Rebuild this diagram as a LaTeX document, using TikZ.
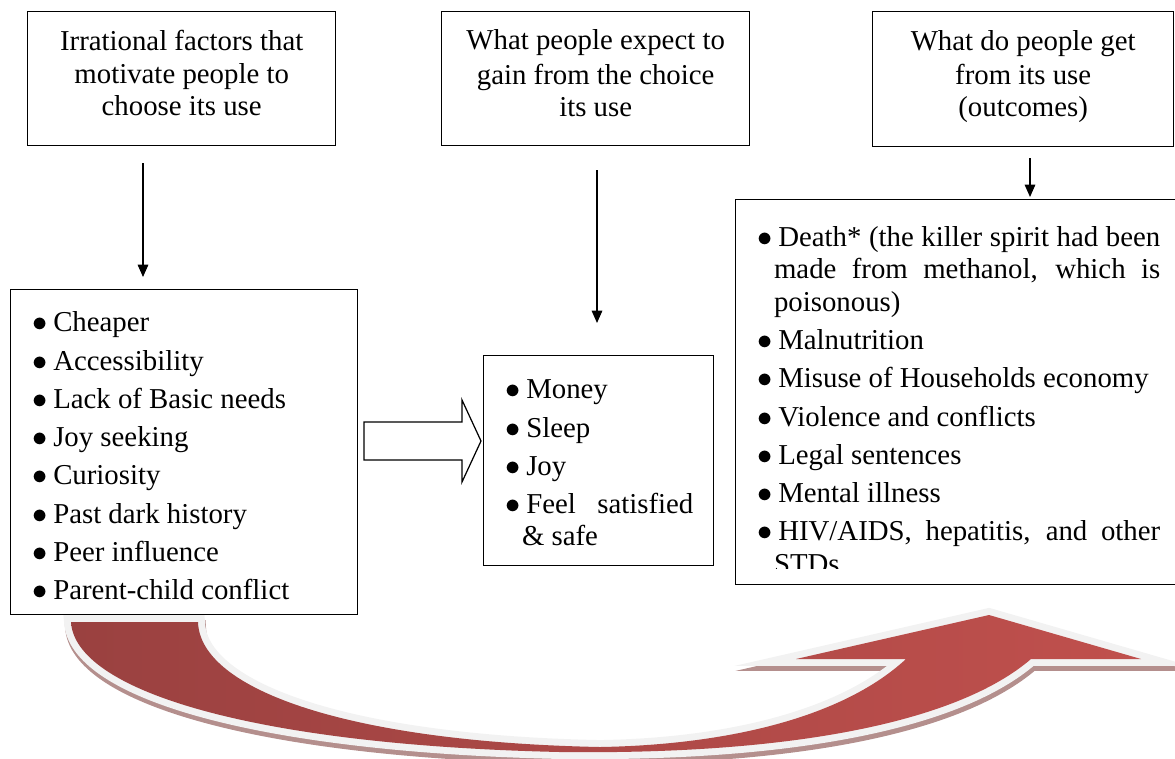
\documentclass[tikz,border=0pt]{standalone}
\usepackage{fontspec}
\setmainfont{Liberation Serif}
\usetikzlibrary{arrows.meta}

\definecolor{pfeildunkel}{HTML}{9A4140}
\definecolor{pfeilhell}{HTML}{C0504D}
\definecolor{pfeilrand}{HTML}{F2F2F2}
\definecolor{pfeilschatten}{HTML}{B48F8D}

\newcommand{\kastenschrift}{\fontsize{16.4}{18.4}\selectfont}
\newcommand{\listenschrift}{\kastenschrift\setlength{\parskip}{3.37pt}\setlength{\parindent}{0pt}}
\newcommand{\punkt}{\par\noindent\hangindent=9.5pt\hangafter=1\makebox[11.9pt][l]{$\bullet$}\strut}
\newcommand{\kopfstuetze}{\rule[-7pt]{0pt}{19pt}}
\newcommand{\bogenpfad}{(71,622) .. controls (75,690) and (250,745) .. (560,752)
  .. controls (800,755) and (960,720) .. (1031,659) -- (1141,659) -- (989,615)
  -- (796,659) -- (906,659) .. controls (840,720) and (720,745) .. (600,747)
  .. controls (350,742) and (200,690) .. (198,622) -- cycle}

\begin{document}
\begin{tikzpicture}[x=0.02cm, y=-0.02cm,
    kasten/.style={draw, line width=0.8pt, fill=white, inner sep=0pt, anchor=north west},
    kopf/.style={kasten, align=center, font=\kastenschrift},
    liste/.style={anchor=north west, inner sep=0pt, align=justify, font=\listenschrift},
    pfeil/.style={-{Triangle[length=7pt,width=6pt]}, line width=0.7pt}]

    % 0. Bildausschnitt
    \path[use as bounding box, clip] (0,0) rectangle (1175,758);

    % 1. Grosser gebogener Pfeil (Schatten, Rand, Verlauf)
    \path[fill=pfeilschatten, draw=pfeilschatten, line width=7.9pt, shift={(1,5)}] \bogenpfad;
    \draw[pfeilrand, line width=7.9pt] \bogenpfad;
    \shade[left color=pfeildunkel, right color=pfeilhell] \bogenpfad;

    % 2. Kopfkaesten
    \node[kopf, minimum width=6.16cm, minimum height=2.68cm] (kopfA) at (27,11)
        {\kopfstuetze Irrational factors that\\motivate people to\\\kopfstuetze choose its use};
    \node[kopf, minimum width=6.16cm, minimum height=2.68cm] (kopfB) at (441,11)
        {\kopfstuetze What people expect to\\gain from the choice\\\kopfstuetze its use};
    \node[kopf, minimum width=6.02cm, minimum height=2.70cm] (kopfC) at (872,11)
        {\kopfstuetze What do people get\\from its use\\\kopfstuetze (outcomes)};

    % 3. Rahmen der Listen
    \node[kasten, minimum width=6.94cm, minimum height=6.5cm] (rahmenA) at (10,289) {};
    \node[kasten, minimum width=4.6cm, minimum height=4.2cm] (rahmenB) at (483,355) {};
    \node[kasten, minimum width=9.3cm, minimum height=7.7cm] (rahmenC) at (735,199) {};

    % 4. Listen
    \node[liste, text width=6cm] (listeA) at (32,293.3)
        {\punkt Cheaper
         \punkt Accessibility
         \punkt Lack of Basic needs
         \punkt Joy seeking
         \punkt Curiosity
         \punkt Past dark history
         \punkt Peer influence
         \punkt Parent-child conflict\par};
    \node[liste, text width=3.76cm] (listeB) at (505,360.3)
        {\punkt Money
         \punkt Sleep
         \punkt Joy
         \punkt Feel satisfied \linebreak \& safe\par};
    \begin{scope}
        \clip (735,199) rectangle (1175,568);
        \node[liste, text width=8.06cm] (listeC) at (757,208)
            {\punkt Death* (the killer spirit had been \linebreak made from methanol, which is \linebreak poisonous)
             \punkt Malnutrition
             \punkt Misuse of Households economy
             \punkt Violence and conflicts
             \punkt Legal sentences
             \punkt Mental illness
             \punkt HIV/AIDS, hepatitis, and other \linebreak STDs\par};
    \end{scope}

    % 5. Senkrechte Pfeile
    \coordinate (a1) at (143,163);
    \coordinate (a2) at (143,277);
    \coordinate (b1) at (597,170);
    \coordinate (b2) at (597,323);
    \coordinate (c1) at (1030,158);
    \coordinate (c2) at (1030,197);
    \draw[pfeil] (a1) -- (a2);
    \draw[pfeil] (b1) -- (b2);
    \draw[pfeil] (c1) -- (c2);

    % 6. Blockpfeil zwischen den Listen
    \draw[line width=0.7pt, fill=white] (364,422) -- (462,422) -- (462,400) -- (481,441)
        -- (462,482) -- (462,460) -- (364,460) -- cycle;

\end{tikzpicture}
\end{document}
